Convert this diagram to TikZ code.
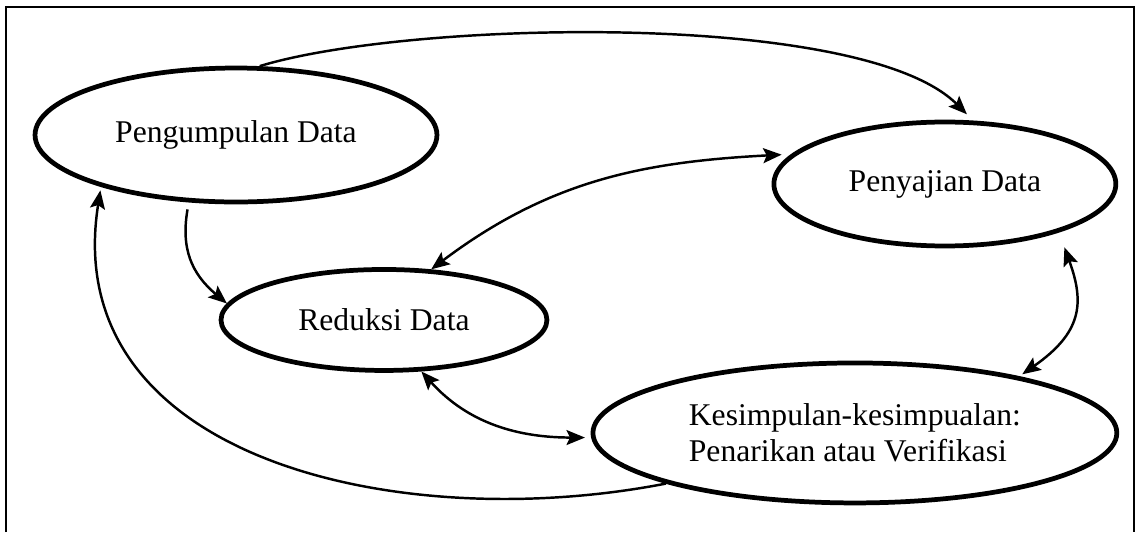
\documentclass[tikz,border=0pt]{standalone}
\usepackage{fontspec}
\setmainfont{Liberation Serif}
\usetikzlibrary{arrows.meta}
\usetikzlibrary{positioning}
\usetikzlibrary{shapes.geometric}

\begin{document}
\begin{tikzpicture}[x=0.02cm,y=-0.02cm,->,>={Stealth[length=10.5pt,width=8.5pt,inset=2pt]},
  line width=1.4pt,on grid,
  phase/.style={ellipse,draw,line width=2.7pt,inner sep=0pt,
  font=\fontsize{18}{20.5}\selectfont,align=center}]

  \useasboundingbox (0,0) rectangle (1136,532);
  % frame round the picture
  \draw[-,line width=1.1pt] (6,532) -- (6,7) -- (1134,7) -- (1134,532);

  \node[phase,minimum width=8.04cm,minimum height=2.68cm] (PD) at (236,135) {Pengumpulan Data};
  \node[phase,minimum width=6.84cm,minimum height=2.48cm] (PJ) [below right=0.98cm and 14.18cm of PD] {Penyajian Data};
  \node[phase,minimum width=6.52cm,minimum height=2.02cm] (RD) [below right=3.7cm and 2.96cm of PD] {Reduksi Data};
  \node[phase,minimum width=10.48cm,minimum height=2.8cm,align=left] (KS) [below right=2.26cm and 9.42cm of RD] {Kesimpulan-kesimpualan:\\Penarikan atau Verifikasi};

  \path
    %Pengumpulan Data goes straight on to Penyajian Data
    (PD.71) edge [out=17,in=135,looseness=0.56,shorten >=5pt] (PJ.66)
    %Pengumpulan Data down to Reduksi Data
    (PD.235) edge [out=260,in=140,looseness=1.1,shorten <=4pt] (RD.174)
    %Reduksi Data and Penyajian Data both ways
    (RD.47) edge [<->,out=37,in=183,shorten >=5.5pt] (PJ.169)
    %Reduksi Data and Kesimpulan both ways
    (RD.306) edge [<->,out=-48,in=180,shorten >=3.5pt] (KS.181)
    %Penyajian Data and Kesimpulan both ways
    (PJ.-23) edge [<->,out=-70,in=35,looseness=1.3,shorten <=9pt,shorten >=2pt] (KS.19)
    %Kesimpulan back to Pengumpulan Data
    (KS.195) edge [out=191,in=261,looseness=1.1,shorten >=2pt] (PD.201);

\end{tikzpicture}
\end{document}
